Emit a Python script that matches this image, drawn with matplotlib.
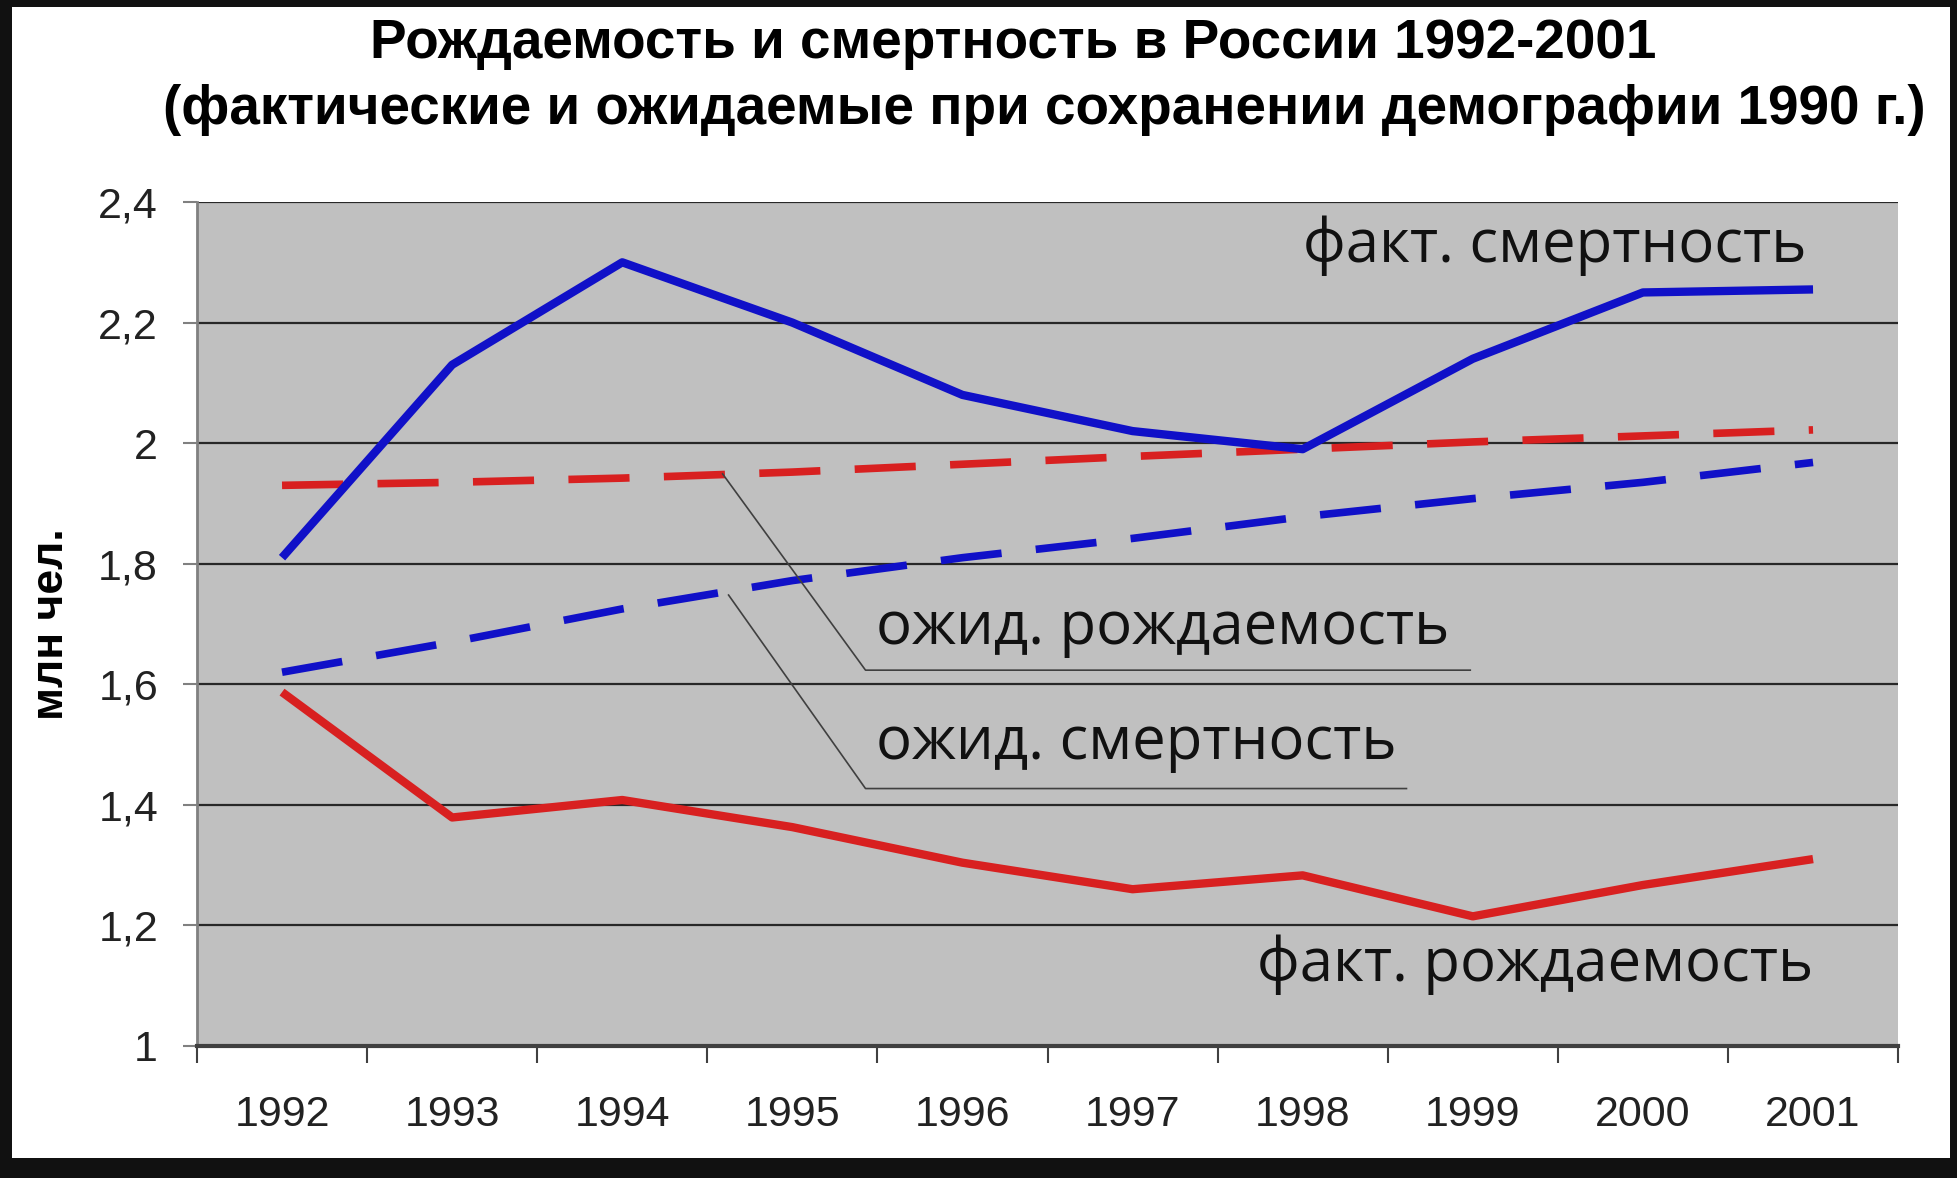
import matplotlib.pyplot as plt
import matplotlib.patches as patches

years = ["1992", "1993", "1994", "1995", "1996", "1997", "1998", "1999", "2000", "2001"]
deaths_fact = [1.81, 2.13, 2.30, 2.20, 2.08, 2.02, 1.99, 2.14, 2.25, 2.255]
births_fact = [1.587, 1.379, 1.408, 1.363, 1.304, 1.26, 1.283, 1.215, 1.267, 1.31]
births_expected = [1.93, 1.935, 1.942, 1.952, 1.965, 1.978, 1.99, 2.002, 2.012, 2.022]
deaths_expected = [1.62, 1.67, 1.725, 1.772, 1.81, 1.842, 1.878, 1.908, 1.935, 1.968]
yticks = [1.0, 1.2, 1.4, 1.6, 1.8, 2.0, 2.2, 2.4]
ytick_labels = ["1", "1,2", "1,4", "1,6", "1,8", "2", "2,2", "2,4"]

BLUE = "#1010c8"
RED = "#d82020"

fig = plt.figure(figsize=(19.58, 11.78), dpi=100, facecolor="#111111")
# white card inside the dark frame
fig.patches.append(patches.Rectangle((12 / 1958, 20 / 1178), (1950 - 12) / 1958, (1171 - 20) / 1178,
                                     transform=fig.transFigure, facecolor="white", edgecolor="none", zorder=0))

ax = fig.add_axes([0.1006, 0.1121, 0.9694 - 0.1006, 0.8285 - 0.1121])
ax.set_zorder(2)
ax.set_facecolor("#c0c0c0")

x = list(range(len(years)))
ax.plot(x, deaths_fact, color=BLUE, lw=6, solid_joinstyle="round", solid_capstyle="butt", zorder=4)
ax.plot(x, births_fact, color=RED, lw=6, solid_joinstyle="round", solid_capstyle="butt", zorder=4)
ax.plot(x, births_expected, color=RED, lw=5.5, dashes=(8, 4.5), zorder=3)
ax.plot(x, deaths_expected, color=BLUE, lw=5.5, dashes=(8, 4.5), zorder=3)

ax.set_xlim(-0.5, 9.5)
ax.set_ylim(1.0, 2.4)
ax.set_yticks(yticks)
ax.set_yticklabels(ytick_labels, fontsize=31, color="#222222", family="Liberation Sans")
ax.yaxis.grid(True, color="#282828", lw=1.6)
ax.set_axisbelow(True)

ax.set_xticks([i - 0.5 for i in range(len(years) + 1)])
ax.set_xticklabels([])
ax.set_xticks(x, minor=True)
ax.set_xticklabels(years, minor=True, fontsize=31, color="#222222", family="Liberation Sans")
ax.tick_params(axis="x", which="major", direction="out", length=12, width=1.5, color="#404040")
ax.tick_params(axis="x", which="minor", length=0, pad=35)
ax.tick_params(axis="y", direction="out", length=10, width=1.5, color="#808080", pad=18)

for s in ["top", "right"]:
    ax.spines[s].set_visible(False)
ax.spines["left"].set_color("#808080")
ax.spines["left"].set_linewidth(2)
ax.spines["bottom"].set_color("#404040")
ax.spines["bottom"].set_linewidth(3)

# series labels
lab = dict(fontsize=43, family="Open Sans", color="#111111")
ax.text(8.96, 2.327, "факт. смертность", ha="right", va="center", **lab)
ax.text(9.0, 1.135, "факт. рождаемость", ha="right", va="center", **lab)
ax.text(3.49, 1.694, "ожид. рождаемость", ha="left", va="center", **lab)
ax.text(3.49, 1.502, "ожид. смертность", ha="left", va="center", **lab)

# leader lines with underlines
ax.plot([2.59, 3.43, 6.985], [1.949, 1.6234, 1.6234], color="#404040", lw=1.2, zorder=5)
ax.plot([2.625, 3.43, 6.61], [1.748, 1.427, 1.427], color="#404040", lw=1.2, zorder=5)

fig.text(52 / 1958, 1 - 624 / 1178, "млн чел.", rotation=90, ha="center", va="center",
         fontsize=32, fontweight="bold", family="Liberation Sans")
fig.text(1013 / 1958, 1 - 44 / 1178, "Рождаемость и смертность в России 1992-2001",
         ha="center", va="center", fontsize=39.5, fontweight="bold", family="Liberation Sans")
fig.text(1044 / 1958, 1 - 110 / 1178, "(фактические и ожидаемые при сохранении демографии 1990 г.)",
         ha="center", va="center", fontsize=39.5, fontweight="bold", family="Liberation Sans")

fig.savefig("out.png", dpi=100, facecolor=fig.get_facecolor())
